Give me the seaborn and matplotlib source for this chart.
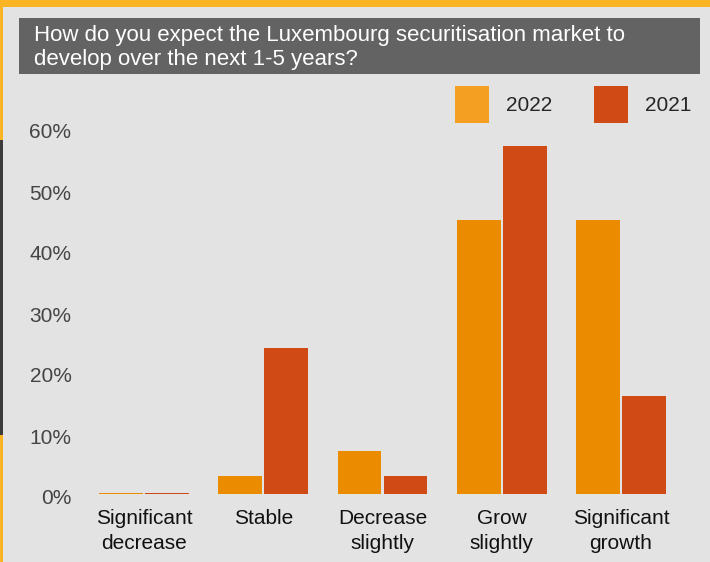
import matplotlib
matplotlib.use("Agg")
import matplotlib.pyplot as plt
from matplotlib.patches import Rectangle, Patch
from matplotlib.transforms import ScaledTranslation
import seaborn as sns
import pandas as pd

categories = ["Significant\ndecrease", "Stable", "Decrease\nslightly", "Grow\nslightly", "Significant\ngrowth"]
years = ["2022", "2021"]
values_2022 = [0.1, 3, 7, 45, 45]
values_2021 = [0.1, 24, 3, 57, 16]
y_ticks = [0, 10, 20, 30, 40, 50, 60]
y_tick_labels = ["0%", "10%", "20%", "30%", "40%", "50%", "60%"]
title = "How do you expect the Luxembourg securitisation market to\ndevelop over the next 1-5 years?"

bar_colors = {"2022": "#EB8C00", "2021": "#D04A15"}
legend_colors = {"2022": "#F59F22", "2021": "#D04A15"}
bg = "#E3E3E3"

df = pd.DataFrame({
    "category": categories * 2,
    "year": [years[0]] * len(categories) + [years[1]] * len(categories),
    "value": values_2022 + values_2021,
})

sns.set_theme(style="white")
plt.rcParams["font.family"] = ["Liberation Sans", "DejaVu Sans"]

W, H = 710, 562
fig = plt.figure(figsize=(W / 100, H / 100), dpi=100, facecolor=bg)

# frame decorations: orange top/left borders and dark strip on the left
fig.patches.append(Rectangle((0, 1 - 7 / H), 1, 7 / H, transform=fig.transFigure,
                             facecolor="#FBB424", edgecolor="none", zorder=0))
fig.patches.append(Rectangle((0, 0), 3 / W, 1, transform=fig.transFigure,
                             facecolor="#FBB424", edgecolor="none", zorder=0))
fig.patches.append(Rectangle((0, 1 - 435 / H), 3 / W, (435 - 140) / H, transform=fig.transFigure,
                             facecolor="#3C3C3A", edgecolor="none", zorder=1))
# title banner
fig.patches.append(Rectangle((19 / W, 1 - 74 / H), (700 - 19) / W, (74 - 18) / H,
                             transform=fig.transFigure, facecolor="#636363",
                             edgecolor="none", zorder=1))
fig.text(34 / W, 1 - 47.5 / H, title, color="white", fontsize=16, va="center", ha="left",
         linespacing=1.2, zorder=2)

x0, x1 = -0.55, 4.55
px_left = 144 + x0 * 119.25
px_right = 621 + (x1 - 4) * 119.25
ax = fig.add_axes([px_left / W, (H - 494) / H, (px_right - px_left) / W, (494 - 128) / H])
ax.set_facecolor(bg)

sns.barplot(data=df, x="category", y="value", hue="year", hue_order=years,
            order=categories, palette=bar_colors, width=0.77, gap=0.05,
            saturation=1, legend=False, linewidth=0, ax=ax)
for bar in ax.patches:
    bar.set_edgecolor(bar.get_facecolor())
    bar.set_linewidth(0)

ax.set_xlim(x0, x1)
ax.set_ylim(0, 60)
ax.set_yticks(y_ticks)
ax.set_yticklabels(y_tick_labels)
ax.set_xlabel("")
ax.set_ylabel("")
for s in ax.spines.values():
    s.set_visible(False)
ax.tick_params(axis="y", length=0, pad=5, labelsize=15, labelcolor="#444444")
ax.tick_params(axis="x", length=0, pad=11, labelsize=15, labelcolor="#111111")
for lab in ax.get_xticklabels():
    lab.set_linespacing(1.35)
shift_down = ScaledTranslation(0, -3 / 100, fig.dpi_scale_trans)
for lab in ax.get_yticklabels():
    lab.set_transform(lab.get_transform() + shift_down)
ax.grid(False)

handles = [Patch(facecolor=legend_colors[y], edgecolor="none", label=y) for y in years]
fig.legend(handles=handles, loc="upper right", bbox_to_anchor=(691 / W, 1 - 86 / H),
           ncol=2, frameon=False, fontsize=15, handlelength=1.63, handleheight=2.33,
           handletextpad=0.8, columnspacing=2.0, borderpad=0, borderaxespad=0)

fig.savefig("out.png", dpi=100, facecolor=bg)
